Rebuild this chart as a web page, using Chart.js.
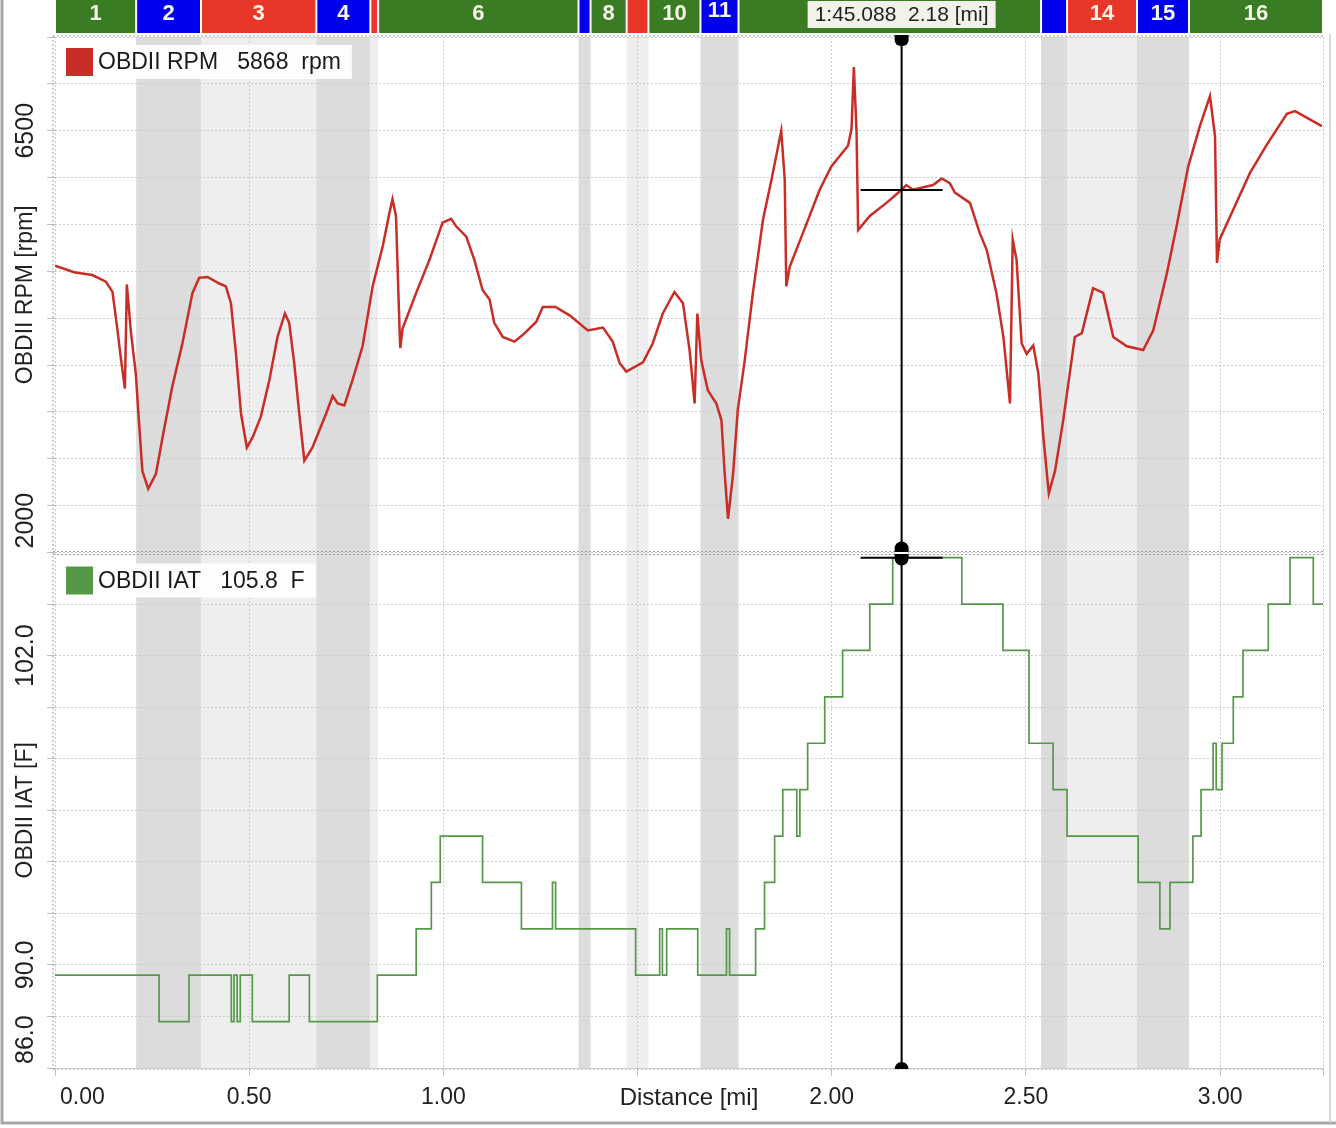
<!DOCTYPE html>
<html>
<head>
<meta charset="utf-8">
<script src="https://cdn.jsdelivr.net/npm/chart.js@4.4.1/dist/chart.umd.min.js"></script>
<style>
  html, body { margin: 0; padding: 0; background: #fff; }
  #wrap { width: 1336px; height: 1128px; }
</style>
</head>
<body>
<div id="wrap"><canvas id="lapChart" width="1336" height="1128"></canvas></div>
<script>
// engine speed along the lap: distance [mi] / rpm
const rpmDist = [
  0.000,0.049,0.096,0.131,0.148,0.161,0.169,0.180,0.185,0.195,
  0.208,0.216,0.225,0.240,0.260,0.277,0.302,0.328,0.354,0.371,
  0.393,0.423,0.440,0.453,0.466,0.479,0.494,0.509,0.530,0.552,
  0.573,0.592,0.603,0.616,0.629,0.642,0.663,0.698,0.715,0.728,
  0.745,0.766,0.792,0.818,0.844,0.861,0.869,0.878,0.887,0.889,
  0.895,0.930,0.964,0.998,1.020,1.033,1.059,1.080,1.101,1.119,
  1.131,1.153,1.183,1.204,1.239,1.256,1.289,1.325,1.372,1.411,
  1.436,1.454,1.471,1.514,1.539,1.565,1.595,1.617,1.634,1.647,
  1.654,1.664,1.681,1.703,1.716,1.724,1.733,1.746,1.758,1.776,
  1.797,1.823,1.845,1.870,1.879,1.883,1.892,1.926,1.969,1.999,
  2.042,2.051,2.057,2.064,2.068,2.098,2.141,2.180,2.192,2.209,
  2.261,2.283,2.304,2.317,2.356,2.381,2.399,2.424,2.442,2.459,
  2.466,2.476,2.489,2.502,2.519,2.532,2.545,2.559,2.575,2.596,
  2.626,2.644,2.673,2.699,2.725,2.760,2.802,2.828,2.863,2.888,
  2.918,2.948,2.974,2.987,2.992,2.999,3.034,3.077,3.120,3.172,
  3.193,3.223,3.262
];
const rpmValue = [
  5060,4990,4960,4890,4780,4370,4090,3750,4860,4370,
  3910,3410,2870,2680,2840,3230,3770,4230,4770,4930,
  4940,4870,4840,4660,4120,3480,3120,3230,3450,3840,
  4300,4550,4450,4020,3480,2980,3120,3480,3670,3590,
  3570,3840,4200,4840,5270,5620,5770,5590,4410,4180,
  4390,4770,5120,5520,5560,5480,5370,5120,4800,4700,
  4450,4300,4250,4320,4460,4620,4620,4530,4370,4400,
  4250,4020,3930,4030,4230,4550,4780,4660,4160,3590,
  4550,4050,3730,3590,3410,2870,2360,2840,3520,4050,
  4770,5550,5980,6500,5980,4840,5050,5410,5870,6120,
  6340,6520,7180,6480,5440,5590,5730,5870,5920,5870,
  5920,5990,5940,5840,5730,5410,5230,4770,4300,3590,
  5340,5120,4230,4120,4210,3910,3230,2630,2870,3410,
  4300,4340,4820,4770,4300,4200,4160,4370,4980,5480,
  6120,6550,6870,6440,5090,5340,5660,6050,6350,6680,
  6710,6640,6550
];

// intake air temp: distance [mi] where the reading changes, new reading [F]
const iatDist = [
  0.000,0.268,0.345,0.454,0.461,0.469,0.477,0.508,0.603,0.655,
  0.830,0.930,0.969,0.992,1.101,1.201,1.281,1.289,1.495,1.557,
  1.564,1.575,1.655,1.729,1.737,1.804,1.827,1.853,1.874,1.910,
  1.918,1.938,1.982,2.028,2.098,2.157,2.335,2.441,2.508,2.570,
  2.606,2.789,2.845,2.871,2.930,2.951,2.982,2.990,3.005,3.034,
  3.059,3.124,3.180,3.240,3.265
];
const iatTemp = [
  89.6,87.8,89.6,87.8,89.6,87.8,89.6,87.8,89.6,87.8,
  89.6,91.4,93.2,95.0,93.2,91.4,93.2,91.4,89.6,91.4,
  89.6,91.4,89.6,91.4,89.6,91.4,93.2,95.0,96.8,95.0,
  96.8,98.6,100.4,102.2,104.0,105.8,104.0,102.2,98.6,96.8,
  95.0,93.2,91.4,93.2,95.0,96.8,98.6,96.8,98.6,100.4,
  102.2,104.0,105.8,104.0,104.0
];

// track segments (start distance [mi]) and their type: G straight, B brake, R corner
const segNames = ['1','2','3','4','5','6','7','8','9','10','11','12','13','14','15','16'];
const segStart = [0.000,0.209,0.376,0.673,0.812,0.832,1.348,1.379,1.472,1.528,1.662,1.760,2.539,2.606,2.786,2.920];
const segKind  = ['G','B','R','B','R','G','B','G','R','G','B','G','B','R','B','G'];
const lapEnd = 3.265;

// tick labels that the logger prints
const rpmTickLabels = [6500, 2000];
const iatTickLabels = [102.0, 90.0, 86.0];
const distTickLabels = [0, 0.5, 1.0, 2.0, 2.5, 3.0];

// cursor readout
const cursorDist = 2.18;
const cursorTime = '1:45.088';
const cursorRpm = 5868;
const cursorIat = 105.8;

const FONT = '"Liberation Sans", Arial, sans-serif';
const headColor = { G: 'rgb(58,124,36)', B: 'rgb(0,0,236)', R: 'rgb(232,54,40)' };
const bandColor = { G: null, B: '#dcdcdc', R: '#eeeeee' };
const rpmColor = 'rgb(200,45,38)';
const iatColor = 'rgb(86,152,74)';

const overlay = {
    id: 'overlay',
    beforeDraw(chart) {
        const { ctx, chartArea: a, scales } = chart;
        const xs = scales.x;
        ctx.save();
        ctx.fillStyle = '#fff';
        ctx.fillRect(0, 0, chart.width, chart.height);
        for (let i = 0; i < segStart.length; i++) {
            const x0 = xs.getPixelForValue(segStart[i]);
            const x1 = xs.getPixelForValue(i + 1 < segStart.length ? segStart[i + 1] : lapEnd);
            const band = bandColor[segKind[i]];
            if (band) {
                ctx.fillStyle = band;
                ctx.fillRect(x0, a.top, x1 - x0, a.bottom - a.top);
            }
            // header strip
            ctx.fillStyle = headColor[segKind[i]];
            ctx.fillRect(x0 + 1, 0, x1 - x0 - 2, 33);
            if (x1 - x0 > 30) {
                ctx.fillStyle = '#f6f6e6';
                ctx.font = 'bold 22px ' + FONT;
                ctx.textAlign = 'center';
                ctx.textBaseline = 'middle';
                ctx.fillText(segNames[i], (x0 + x1) / 2, segNames[i] === '11' ? 11 : 14);
            }
        }
        ctx.restore();
    },
    afterDraw(chart) {
        const { ctx, chartArea: a, scales } = chart;
        const xs = scales.x, yr = scales.yRpm, yt = scales.yIat;
        ctx.save();

        // panel frames (dotted)
        ctx.strokeStyle = '#a0a0a0';
        ctx.lineWidth = 1;
        ctx.setLineDash([2, 2]);
        const hline = (y) => { ctx.beginPath(); ctx.moveTo(a.left - 2, y); ctx.lineTo(a.right + 2, y); ctx.stroke(); };
        hline(yr.top - 1);
        hline(yr.bottom - 1);
        hline(yt.top + 2);
        hline(yt.bottom + 1);
        ctx.beginPath();
        ctx.moveTo(a.left - 2, yr.top - 1); ctx.lineTo(a.left - 2, yt.bottom + 1);
        ctx.stroke();
        ctx.setLineDash([]);

        // window frame
        ctx.strokeStyle = '#a8a8a8';
        ctx.lineWidth = 3;
        ctx.beginPath();
        ctx.moveTo(2, 0); ctx.lineTo(2, 1123); ctx.lineTo(1336, 1123);
        ctx.stroke();
        ctx.lineWidth = 1.5;
        ctx.strokeStyle = '#c8c8c8';
        ctx.beginPath();
        ctx.moveTo(a.right + 7, 34); ctx.lineTo(a.right + 7, 1123);
        ctx.stroke();

        // y-axis titles and labels (rotated)
        ctx.fillStyle = '#222';
        ctx.textBaseline = 'middle';
        ctx.textAlign = 'center';
        const vtext = (txt, y, size) => {
            ctx.save();
            ctx.translate(26, y);
            ctx.rotate(-Math.PI / 2);
            ctx.font = size + 'px ' + FONT;
            ctx.fillText(txt, 0, 0);
            ctx.restore();
        };
        const axisLabels = (scale, labels, fmt) => {
            ctx.font = '25px ' + FONT;
            labels.forEach(v => {
                const txt = fmt(v);
                const w = ctx.measureText(txt).width;
                let y = scale.getPixelForValue(v);
                y = Math.min(y, scale.bottom - w / 2 - 4);
                y = Math.max(y, scale.top + w / 2 + 4);
                vtext(txt, y, 25);
            });
        };
        axisLabels(yr, rpmTickLabels, v => String(v));
        axisLabels(yt, iatTickLabels, v => v.toFixed(1));
        vtext('OBDII RPM [rpm]', (yr.top + yr.bottom) / 2, 23);
        vtext('OBDII IAT [F]', (yt.top + yt.bottom) / 2, 23);

        // x-axis labels
        ctx.font = '23px ' + FONT;
        const ly = a.bottom + 30;
        distTickLabels.forEach(v => {
            const txt = v.toFixed(2);
            const w = ctx.measureText(txt).width;
            let x = xs.getPixelForValue(v);
            x = Math.max(x, a.left + 5 + w / 2);
            ctx.fillText(txt, x, ly);
        });
        ctx.font = '24px ' + FONT;
        ctx.fillText('Distance [mi]', (a.left + a.right) / 2, ly);

        // legends
        const legend = (top, color, name, value, unit) => {
            ctx.font = '23px ' + FONT;
            const txt = name + '   ' + value + '  ' + unit;
            const w = ctx.measureText(txt).width;
            ctx.fillStyle = 'rgba(255,255,255,0.92)';
            ctx.fillRect(a.left + 6, top, w + 48, 34);
            ctx.fillStyle = color;
            ctx.fillRect(a.left + 11, top + 3, 27, 28);
            ctx.fillStyle = '#1a1a1a';
            ctx.textAlign = 'left';
            ctx.fillText(txt, a.left + 43, top + 18);
            ctx.textAlign = 'center';
        };
        legend(yr.top + 8, rpmColor, 'OBDII RPM', cursorRpm, 'rpm');
        legend(yt.top + 11, iatColor, 'OBDII IAT', cursorIat.toFixed(1), 'F');

        // cursor
        const cx = xs.getPixelForValue(cursorDist);
        ctx.strokeStyle = '#000';
        ctx.fillStyle = '#000';
        ctx.lineWidth = 2;
        ctx.beginPath();
        ctx.moveTo(cx, a.top + 2); ctx.lineTo(cx, a.bottom - 2);
        ctx.stroke();
        const ry = yr.getPixelForValue(cursorRpm);
        const ty = yt.getPixelForValue(cursorIat);
        ctx.beginPath();
        ctx.moveTo(cx - 41, ry); ctx.lineTo(cx + 41, ry);
        ctx.moveTo(cx - 41, ty); ctx.lineTo(cx + 41, ty);
        ctx.stroke();
        ctx.beginPath();
        ctx.roundRect(cx - 7, a.top - 2, 14, 11, [0, 0, 6, 6]);
        ctx.fill();
        const sep = yr.bottom;
        ctx.beginPath();
        ctx.roundRect(cx - 7, sep - 11, 14, 24, 7);
        ctx.fill();
        ctx.fillStyle = '#fff';
        ctx.fillRect(cx - 7, sep - 0.5, 14, 2);
        ctx.fillStyle = '#000';
        ctx.beginPath();
        ctx.arc(cx, a.bottom + 1, 7, Math.PI, 0);
        ctx.fill();

        // cursor readout in header
        ctx.fillStyle = '#f2f2ea';
        ctx.fillRect(cx - 94, 1, 188, 27);
        ctx.fillStyle = '#222';
        ctx.font = '21px ' + FONT;
        ctx.fillText(cursorTime + '  ' + cursorDist.toFixed(2) + ' [mi]', cx, 15);

        ctx.restore();
    }
};

const gridStyle = { color: '#cbcbcb', lineWidth: 1, tickLength: 8, tickColor: '#c0c0c0' };

const lapChart = new Chart(document.getElementById('lapChart').getContext('2d'), {
    type: 'line',
    data: {
        datasets: [{
            label: 'OBDII RPM',
            data: rpmDist.map((d, i) => ({ x: d, y: rpmValue[i] })),
            yAxisID: 'yRpm',
            borderColor: rpmColor,
            borderWidth: 2.5,
            pointRadius: 0,
            tension: 0
        }, {
            label: 'OBDII IAT',
            data: iatDist.map((d, i) => ({ x: d, y: iatTemp[i] })),
            yAxisID: 'yIat',
            borderColor: iatColor,
            borderWidth: 1.7,
            pointRadius: 0,
            stepped: true
        }]
    },
    options: {
        responsive: false,
        animation: false,
        layout: { padding: { top: 37, right: 13, left: 0, bottom: 0 } },
        plugins: { legend: { display: false }, tooltip: { enabled: false } },
        scales: {
            x: {
                type: 'linear',
                min: 0,
                max: lapEnd,
                ticks: { stepSize: 0.5, display: false },
                grid: gridStyle,
                border: { display: false, dash: [2, 2] },
                afterFit(s) { s.height = 60; }
            },
            yIat: {
                type: 'linear',
                position: 'left',
                stack: 'panels',
                stackWeight: 1,
                min: 86,
                max: 106,
                ticks: { stepSize: 2, display: false },
                grid: gridStyle,
                border: { display: false, dash: [2, 2] },
                afterFit(s) { s.width = 55; }
            },
            yRpm: {
                type: 'linear',
                position: 'left',
                stack: 'panels',
                stackWeight: 1,
                min: 2000,
                max: 7500,
                ticks: { stepSize: 500, display: false },
                grid: gridStyle,
                border: { display: false, dash: [2, 2] },
                afterFit(s) { s.width = 55; }
            }
        }
    },
    plugins: [overlay]
});
</script>
</body>
</html>
